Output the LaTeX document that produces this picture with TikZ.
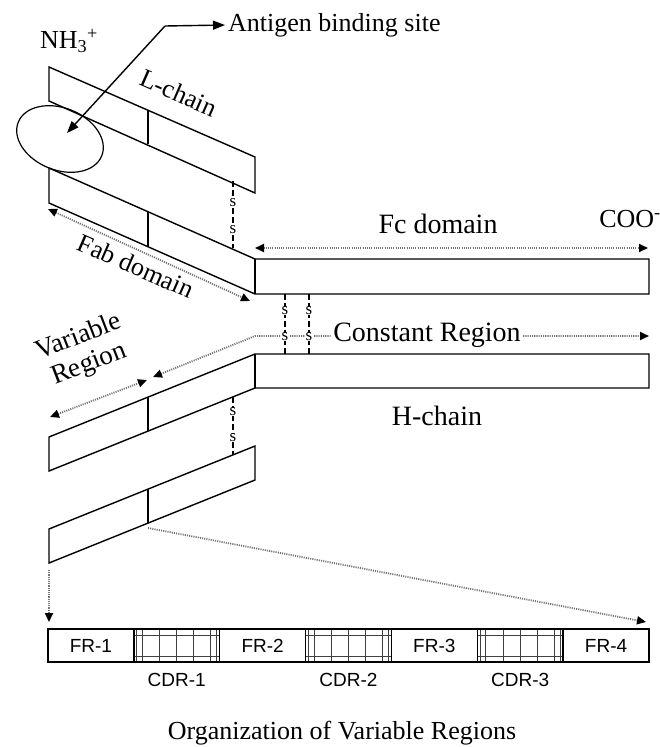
\documentclass[tikz,border=0pt]{standalone}
\usepackage{fontspec}
\setmainfont{Liberation Serif}
\newfontfamily\arialf{Liberation Sans}
\usetikzlibrary{arrows.meta}
\begin{document}
\begin{tikzpicture}[x=1pt,y=-1pt,
  chainl/.style={line width=1.4pt, line join=miter},
  dotl/.style={line width=1.8pt, black!55, dash pattern=on 1.1pt off 1.1pt},
  tipe/.style={-{Triangle[length=9pt,width=8pt,color=black]}},
  tipb/.style={{Triangle[length=9pt,width=8pt,color=black]}-{Triangle[length=9pt,width=8pt,color=black]}},
  bond/.style={line width=1.2pt, dash pattern=on 6pt off 3pt},
  ess/.style={font=\fontsize{17}{18}\selectfont, fill=white, inner sep=0.2pt},
  lab/.style={font=\fontsize{26}{28}\selectfont, inner sep=0pt},
  blab/.style={font=\fontsize{28}{30}\selectfont, inner sep=0pt},
  sans/.style={font=\arialf\fontsize{19}{21}\selectfont, inner sep=0pt},
  gridl/.style={line width=0.9pt, black!75}
]
\useasboundingbox (0,0) rectangle (659,747);

% ---------- upper L-chain ----------
\draw[chainl] (49,67) -- (255,157) -- (255,193) -- (49,101) -- cycle;
\draw[chainl] (148,110.25) -- (148,144.25);

% ---------- upper H-chain arm + Fc ----------
\draw[chainl] (49,168) -- (255,259) -- (649,259) -- (649,294) -- (255,294) -- (49,203) -- cycle;
\draw[chainl] (255,259) -- (255,294);
\draw[chainl] (148,211.7) -- (148,246.7);

% ---------- lower H-chain arm + constant ----------
\draw[chainl] (49,437) -- (255,354) -- (649,354) -- (649,388) -- (255,388) -- (49,471) -- cycle;
\draw[chainl] (255,354) -- (255,388);
\draw[chainl] (148,397.1) -- (148,431.1);

% ---------- lower L-chain ----------
\draw[chainl] (49,529) -- (255,446) -- (255,480) -- (49,563) -- cycle;
\draw[chainl] (148,489.1) -- (148,523.1);

% ---------- antigen binding site ----------
\draw[line width=1.2pt] (60,139) ellipse [x radius=45, y radius=31, rotate=-22];
\node[lab, anchor=west] (ant) at (228,25) {Antigen binding site};
\coordinate (bend) at (165,26);
\coordinate (site) at (67,133);
\draw[line width=1.4pt, -{Triangle[length=12pt,width=9pt]}] (bend) -- ([xshift=-3pt]ant.west);
\draw[line width=1.4pt, -{Triangle[length=12pt,width=9pt]}] (bend) -- (site);
\node[lab] (nh) at (69,41) {NH\textsubscript{3}\textsuperscript{+}};
\node[lab, rotate=-23.6] (lch) at (179,93) {L-chain};

% ---------- disulfide bonds ----------
\draw[bond] (233,181.4) -- (233,248.4);
\node[ess] at (233,203) {s};
\node[ess] at (233,230) {s};
\draw[bond] (233,396.9) -- (233,454.9);
\node[ess] at (233,412) {s};
\node[ess] at (233,438) {s};
\foreach \bx in {285,309}{
  \draw[bond] (\bx,294) -- (\bx,354);
  \node[ess] at (\bx,311) {s};
}

% ---------- Fc domain ----------
\coordinate (fcl) at (255,248);
\coordinate (fcr) at (648,248);
\draw[dotl, tipb] (fcl) -- (fcr);
\node[blab] (fc) at (438,224) {Fc domain};
\node[lab, anchor=east] (coo) at (661,219) {COO\textsuperscript{-}};

% ---------- Fab domain ----------
\coordinate (fabl) at (48,209);
\coordinate (fabr) at (250,301);
\draw[dotl, tipb] (fabl) -- (fabr);
\node[lab, rotate=-23.6] (fab) at (136,266) {Fab domain};

% ---------- Constant region ----------
\coordinate (crl) at (153,377);
\coordinate (crk) at (255,336);
\coordinate (crr) at (649,336);
\draw[dotl, tipb] (crl) -- (crk) -- (crr);
\foreach \bx in {285,309}{
  \node[ess] at (\bx,337) {s};
}
\node[blab, fill=white, inner xsep=2pt] (cr) at (427,335) {Constant Region};

% ---------- Variable region ----------
\coordinate (vrl) at (50,417);
\coordinate (vrr) at (147,380);
\draw[dotl, tipb] (vrl) -- (vrr);
\node[font=\fontsize{27}{29}\selectfont, rotate=21, align=center, inner sep=0pt] (vr) at (84,351) {Variable\\Region};

% ---------- H-chain ----------
\node[blab] (hch) at (437,416) {H-chain};

% ---------- organisation arrows ----------
\coordinate (va) at (49,570);
\coordinate (vb) at (49,622);
\draw[dotl, tipe] (va) -- (vb);
\coordinate (da) at (148,528);
\coordinate (db) at (646,622);
\draw[dotl, tipe] (da) -- (db);

% ---------- bar ----------
\foreach \k/\n in {1/1,3/2,5/3}{
  \pgfmathsetmacro\xa{48+\k*85.857}
  \pgfmathsetmacro\xb{\xa+85.857}
  \foreach \d in {3,8.5,26,43,60,77,83}{
    \draw[gridl] (\xa+\d,629) -- (\xa+\d,662);
  }
  \foreach \yy in {635,656}{
    \draw[gridl] (\xa,\yy) -- (\xb,\yy);
  }
  \draw[line width=1.4pt] (\xa,629) -- (\xa,662) (\xb,629) -- (\xb,662);
  \node[sans] (cdr\n) at (\xa+42.9,680) {CDR-\n};
}
\draw[line width=1.4pt] (48,629) rectangle (649,662);
\foreach \k/\n in {0/1,2/2,4/3,6/4}{
  \pgfmathsetmacro\xc{48+\k*85.857+42.9}
  \node[sans] (fr\n) at (\xc,646) {FR-\n};
}
\node[lab] (title) at (342,733) {Organization of Variable Regions};
\end{tikzpicture}
\end{document}
